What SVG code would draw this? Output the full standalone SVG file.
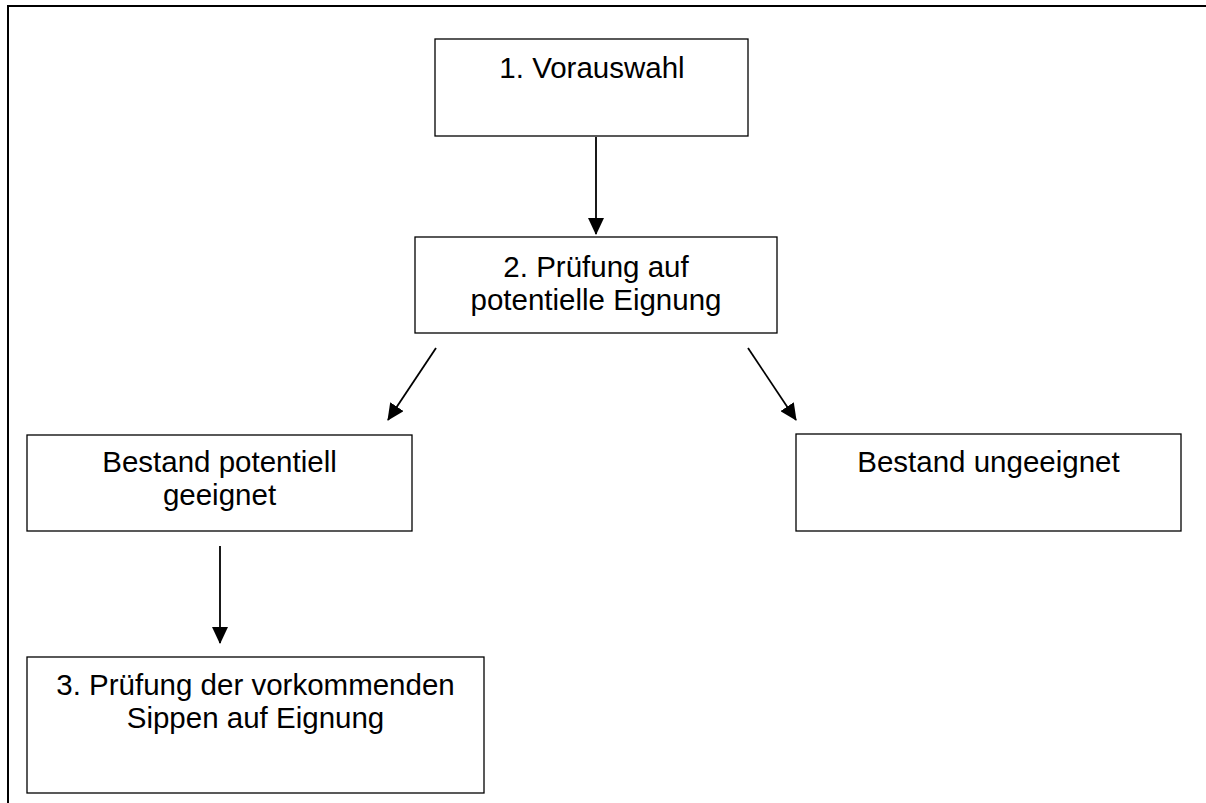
<svg xmlns="http://www.w3.org/2000/svg" width="1206" height="803" viewBox="0 0 1206 803">
<style>
.box{fill:#fff;stroke:#000;stroke-width:1.3}
.t{font-family:"Liberation Sans",Arial,sans-serif;font-size:29.5px;fill:#000;text-anchor:middle}
.c{stroke:#000;stroke-width:1.8;fill:none;marker-end:url(#ah)}
</style>
<defs>
<marker id="ah" markerUnits="userSpaceOnUse" markerWidth="17" markerHeight="16" refX="16" refY="8" orient="auto">
<path d="M0,0 L17,8 L0,16 z" fill="#000"/>
</marker>
</defs>
<rect width="1206" height="803" fill="#fff"/>
<g id="frame">
<path d="M8,803 L8,6 L1206,6" fill="none" stroke="#000" stroke-width="2"/>
</g>
<g id="connectors">
<line class="c" x1="596" y1="137" x2="596" y2="234"/>
<line class="c" x1="436" y1="348" x2="388" y2="420"/>
<line class="c" x1="748" y1="348" x2="796" y2="420"/>
<line class="c" x1="220" y1="546" x2="220" y2="643"/>
</g>
<g id="n1">
<rect class="box" x="435" y="39" width="313" height="97"/>
<text class="t" x="592" y="78">1. Vorauswahl</text>
</g>
<g id="n2">
<rect class="box" x="415" y="237" width="362" height="96"/>
<text class="t" x="596" y="277">2. Prüfung auf</text>
<text class="t" x="596" y="310">potentielle Eignung</text>
</g>
<g id="n3">
<rect class="box" x="27" y="435" width="385" height="96"/>
<text class="t" x="219.5" y="472">Bestand potentiell</text>
<text class="t" x="219.5" y="505">geeignet</text>
</g>
<g id="n4">
<rect class="box" x="796" y="434" width="385" height="97"/>
<text class="t" x="988.5" y="472">Bestand ungeeignet</text>
</g>
<g id="n5">
<rect class="box" x="27" y="657" width="457" height="136"/>
<text class="t" x="255.5" y="695">3. Prüfung der vorkommenden</text>
<text class="t" x="255.5" y="728">Sippen auf Eignung</text>
</g>
</svg>
